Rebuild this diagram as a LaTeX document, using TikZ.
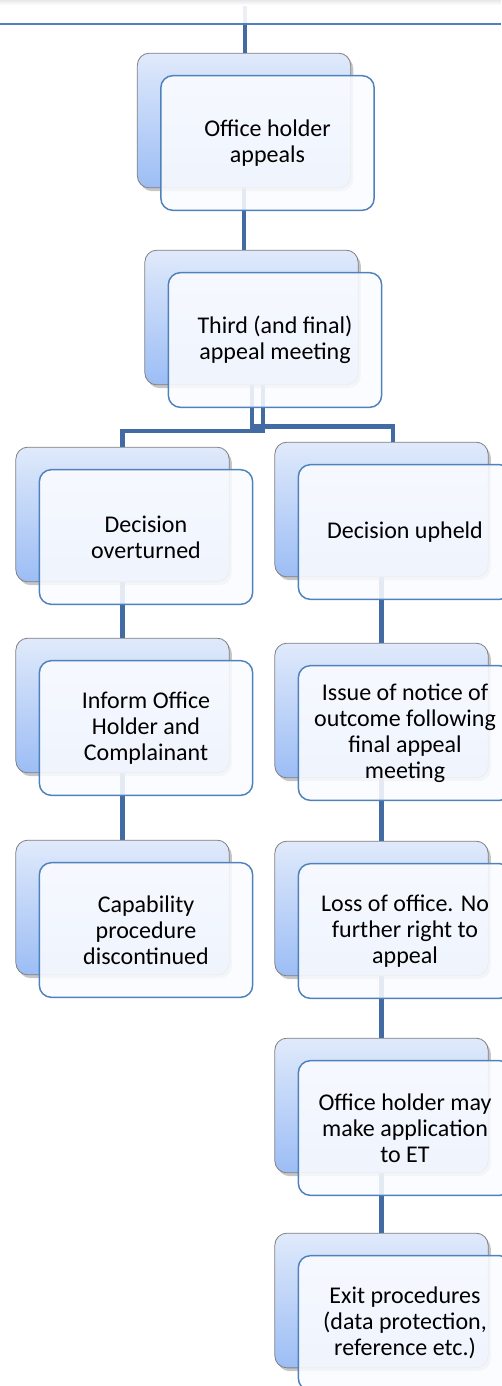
\documentclass[tikz,border=0pt]{standalone}
\usepackage{fontspec}
\setmainfont{Carlito}
\usetikzlibrary{shadows,calc}

\definecolor{linkc}{RGB}{66,107,163}
\definecolor{framec}{RGB}{79,129,189}
\definecolor{backtop}{RGB}{224,234,251}
\definecolor{backbot}{RGB}{156,189,245}
\definecolor{frontfill}{RGB}{251,252,255}

\pgfdeclarelayer{under}
\pgfdeclarelayer{over}
\pgfsetlayers{under,main,over}

\tikzset{
  card/.style={rectangle, rounded corners=9pt, minimum width=160pt,
    minimum height=101pt, inner sep=0pt},
  backbox/.style={card, draw=black!50, line width=0.6pt,
    top color=backtop, bottom color=backbot,
    drop shadow={shadow xshift=2pt, shadow yshift=-2.5pt, opacity=0.45}},
  frontbox/.style={card, draw=framec, line width=1.1pt,
    fill=frontfill, fill opacity=0.88, text opacity=1, align=center,
    font=\fontsize{18}{19.6}\selectfont},
  link/.style={draw=linkc, line width=3.6pt}
}

\begin{document}
\begin{tikzpicture}[x=0.75pt, y=-0.75pt]
\useasboundingbox (0,0) rectangle (501,1386);

% back cards
\node[backbox] (b1) at (244,120.5) {};
\node[backbox] (b2) at (251.5,317.5) {};
\node[backbox] (l1) at (122.5,514.5) {};
\node[backbox] (l2) at (122.5,705.5) {};
\node[backbox] (l3) at (122.5,907.5) {};
\node[backbox] (r1) at (381.5,509.5) {};
\node[backbox] (r2) at (381.5,710.5) {};
\node[backbox] (r3) at (381.5,908.5) {};
\node[backbox] (r4) at (381.5,1105.5) {};
\node[backbox] (r5) at (381.5,1300.5) {};

% front cards with the texts
\node[frontbox] (fb1) at ($(b1)+(23.5,22.5)$) {Office holder\\appeals};
\node[frontbox] (fb2) at ($(b2)+(23.5,22.5)$) {Third (and final)\\appeal meeting};
\node[frontbox] (fl1) at ($(l1)+(23.5,22.5)$) {Decision\\overturned};
\node[frontbox] (fl2) at ($(l2)+(23.5,22.5)$) {Inform Office\\Holder and\\Complainant};
\node[frontbox] (fl3) at ($(l3)+(23.5,22.5)$) {Capability\\procedure\\discontinued};
\node[frontbox] (fr1) at ($(r1)+(23.5,22.5)$) {Decision upheld};
\node[frontbox] (fr2) at ($(r2)+(23.5,22.5)$) {Issue of notice of\\outcome following\\final appeal\\meeting};
\node[frontbox] (fr3) at ($(r3)+(23.5,22.5)$) {Loss of office. No\\further right to\\appeal};
\node[frontbox] (fr4) at ($(r4)+(23.5,22.5)$) {Office holder may\\make application\\to ET};
\node[frontbox] (fr5) at ($(r5)+(23.5,22.5)$) {Exit procedures\\(data protection,\\reference etc.)};

% connectors, drawn beneath the cards
\coordinate (top) at (245,0);
\coordinate (splitL) at (263,431);
\coordinate (splitR) at (252,426.5);
\begin{pgfonlayer}{under}
  \draw[link] (top) -- (top |- b1.north);
  \draw[link] (b1.south) -- (b1.south |- b2.north);
  \draw[link] (b2.south -| splitL) -- (splitL) -| (l1.north);
  \draw[link] (b2.south -| splitR) -- (splitR) -| ($(r1.north)+(11.5,0)$);
  \draw[link] (l1.south) -- (l2.north);
  \draw[link] (l2.south) -- (l3.north);
  \draw[link] (r1.south) -- (r2.north);
  \draw[link] (r2.south) -- (r3.north);
  \draw[link] (r3.south) -- (r4.north);
  \draw[link] (r4.south) -- (r5.north);
\end{pgfonlayer}

% header strip across the top
\begin{pgfonlayer}{over}
  \fill[white, opacity=0.9] (0,0) rectangle (501,24);
  \shade[top color=black!9, bottom color=white] (0,0) rectangle (501,5);
  \draw[framec, line width=1.2pt] (0,24) -- (501,24);
\end{pgfonlayer}
\end{tikzpicture}
\end{document}
